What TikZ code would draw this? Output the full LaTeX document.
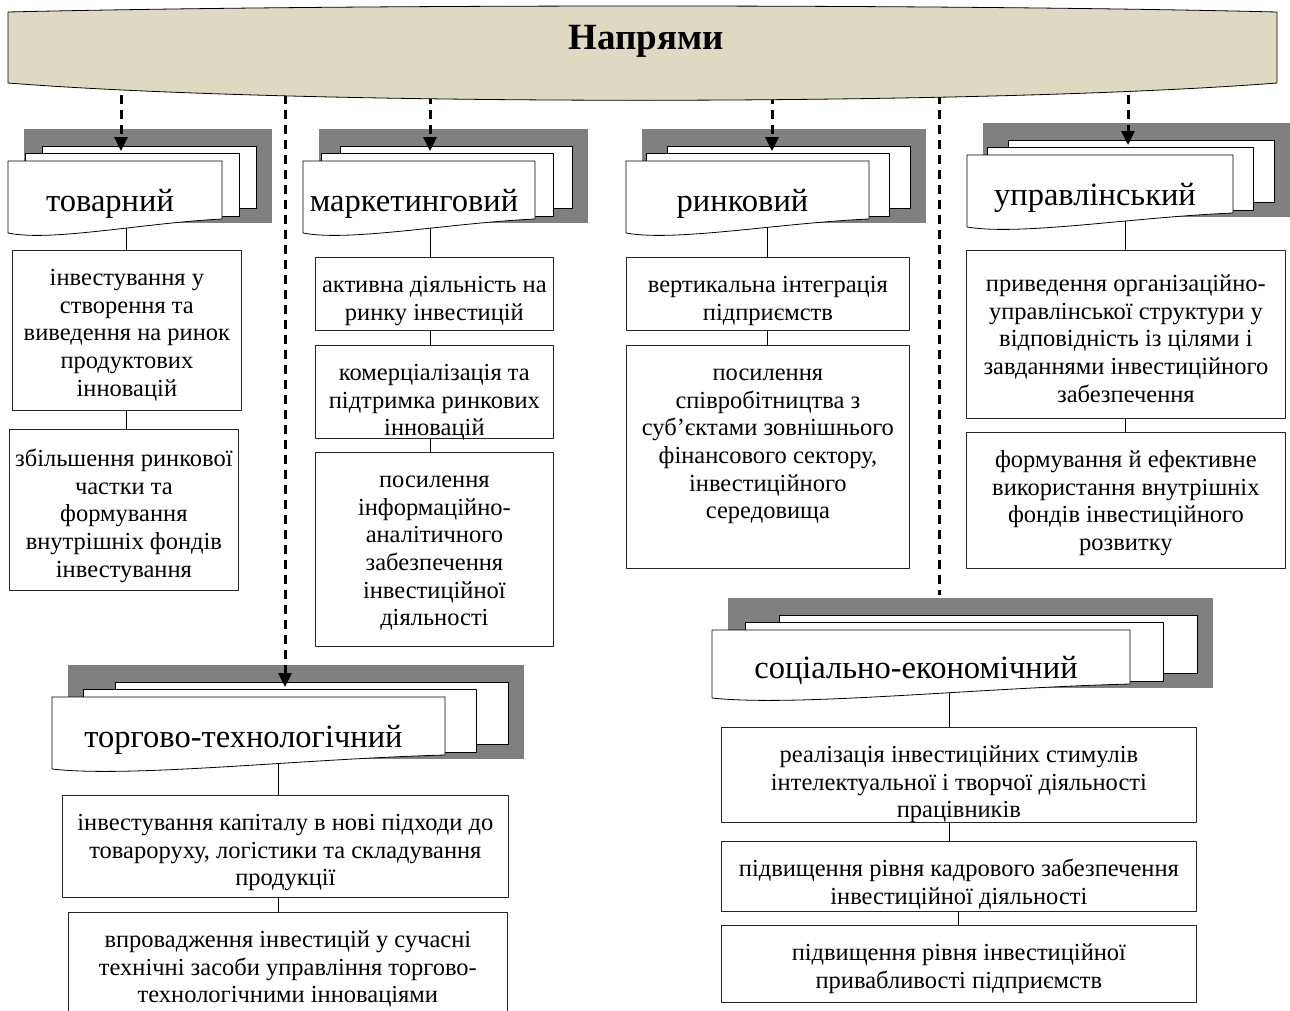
\documentclass[tikz,border=0pt]{standalone}
\usepackage{fontspec}
\setmainfont{Liberation Serif}
\usetikzlibrary{arrows.meta}
\pgfdeclarelayer{links}
\pgfsetlayers{links,main}

\definecolor{bannerfill}{RGB}{221,217,195}
\definecolor{shadowgray}{RGB}{128,128,128}

% stack of pages: name, grey shadow (x1,y1,x2,y2), right edge of front sheet, label
\newcommand{\pagestack}[7]{%
  \pgfmathsetmacro{\pgshift}{(#4-16-#6)/2}
  \fill[shadowgray] (#2,#3) rectangle (#4,#5);
  \filldraw[sheet] (#2-16+2*\pgshift,#3+17) rectangle (#4-16,#5-15);
  \filldraw[sheet] (#2-16+\pgshift,#3+24) rectangle (#6+\pgshift,#5-7);
  \filldraw[sheet] (#2-16,#3+32)--(#6,#3+32)--(#6,#5-4)
    .. controls ({#2-16+0.63*(#6-#2+16)},#5) and ({#2-16+0.2*(#6-#2+16)},#5+19) .. (#2-16,#5+10)--cycle;
  \node[headlabel] (#1) at ({(#2-16+#6)/2-5},{(#3+32+#5)/2+12}) {#7};
  \coordinate (#1top) at (#2,#3+22);
}
% text of a box: [top pad]{width}{height}{lines}
\newcommand{\cellbox}[4][16]{\parbox[c][#3pt][t]{#2pt}{\centering\vspace*{#1pt}\strut#4}}

\begin{document}
\begin{tikzpicture}[x=1pt,y=-1pt,line join=round,
  sheet/.style={fill=white,draw=black,line width=0.8pt},
  headlabel/.style={font=\fontsize{32.5}{36}\selectfont,inner sep=0pt},
  infobox/.style={draw=black!85,line width=0.8pt,inner sep=0pt,anchor=north west,
    font=\fontsize{24.5}{27.6}\selectfont},
  link/.style={line width=1pt},
  dashlink/.style={line width=3pt,dash pattern=on 9pt off 6pt},
  flow/.style={dashlink,-{Triangle[length=14pt,width=13pt]}},
  banner/.style={fill=bannerfill,draw=black,line width=0.8pt}]
\useasboundingbox (0,0) rectangle (1290,1010);

\pagestack{tov}{24}{129}{272}{223}{222}{товарний}
\pagestack{mar}{319}{129}{588}{223}{535}{маркетинговий}
\pagestack{rin}{642}{129}{926}{223}{869}{ринковий}
\pagestack{upr}{983}{123}{1290}{217}{1233}{управлінський}
\pagestack{tor}{68}{665}{524}{759}{445}{торгово-технологічний}
\pagestack{soc}{728}{598}{1213}{688}{1130}{соціально-економічний}

\node[infobox] (tov1) at (12,250) {\cellbox{229}{160}{інвестування у\\створення та\\виведення на ринок\\продуктових\\інновацій}};
\node[infobox] (tov2) at (9,429) {\cellbox[18]{229}{161}{збільшення ринкової\\частки та\\формування\\внутрішніх фондів\\інвестування}};

\node[infobox] (mar1) at (315,257) {\cellbox{238}{73}{активна діяльність на\\ринку інвестицій}};
\node[infobox] (mar2) at (315,345) {\cellbox{238}{93}{комерціалізація та\\підтримка ринкових\\інновацій}};
\node[infobox] (mar3) at (315,452) {\cellbox{238}{194}{посилення\\інформаційно-\\аналітичного\\забезпечення\\інвестиційної\\діяльності}};

\node[infobox] (rin1) at (626,257) {\cellbox{283}{73}{вертикальна інтеграція\\підприємств}};
\node[infobox] (rin2) at (626,345) {\cellbox{283}{223}{посилення\\співробітництва з\\суб’єктами зовнішнього\\фінансового сектору,\\інвестиційного\\середовища}};

\node[infobox] (upr1) at (966,250) {\cellbox[22]{319}{168}{приведення організаційно-\\управлінської структури у\\відповідність із цілями і\\завданнями інвестиційного\\забезпечення}};
\node[infobox] (upr2) at (966,432) {\cellbox{319}{136}{формування й ефективне\\використання внутрішніх\\фондів інвестиційного\\розвитку}};

\node[infobox] (tor1) at (62,795) {\cellbox{446}{102}{інвестування капіталу в нові підходи до\\товароруху, логістики та складування\\продукції}};
\node[infobox] (tor2) at (68,912) {\cellbox{439}{110}{впровадження інвестицій у сучасні\\технічні засоби управління торгово-\\технологічними інноваціями}};

\node[infobox] (soc1) at (721,727) {\cellbox{475}{95}{реалізація інвестиційних стимулів\\інтелектуальної і творчої діяльності\\працівників}};
\node[infobox] (soc2) at (721,841) {\cellbox{475}{70}{підвищення рівня кадрового забезпечення\\інвестиційної діяльності}};
\node[infobox] (soc3) at (721,925) {\cellbox{475}{77}{підвищення рівня інвестиційної\\привабливості підприємств}};

\begin{pgfonlayer}{links}
\draw[link] (tov1.north) -- (tov1.north |- tov);
\draw[link] (tov1.south) -- (tov1.south |- tov2.north);
\draw[link] ([xshift=-4pt]mar1.north) -- ([xshift=-4pt]mar1.north |- mar);
\draw[link] ([xshift=-4pt]mar1.south) -- ([xshift=-4pt]mar1.south |- mar2.north);
\draw[link] ([xshift=-4pt]mar2.south) -- ([xshift=-4pt]mar2.south |- mar3.north);
\draw[link] (rin1.north) -- (rin1.north |- rin);
\draw[link] (rin1.south) -- (rin1.south |- rin2.north);
\draw[link] (upr1.north) -- (upr1.north |- upr);
\draw[link] (upr1.south) -- (upr1.south |- upr2.north);
\draw[link] ([xshift=-7pt]tor1.north) -- ([xshift=-7pt]tor1.north |- tor);
\draw[link] ([xshift=-7pt]tor1.south) -- ([xshift=-7pt]tor1.south |- tor2.north);
\draw[link] ([xshift=-9pt]soc1.north) -- ([xshift=-9pt]soc1.north |- soc);
\draw[link] ([xshift=-9pt]soc1.south) -- ([xshift=-9pt]soc1.south |- soc2.north);
\draw[link] (soc2.south) -- (soc2.south |- soc3.north);
\end{pgfonlayer}

    \coordinate (s1) at (121,80);
    \coordinate (s2) at (285,80);
    \coordinate (s3) at (430,80);
    \coordinate (s4) at (772,80);
    \coordinate (s5) at (939,80);
    \coordinate (s6) at (1128,80);
    \coordinate (socend) at (939,595);

\draw[flow] (s1) -- (s1 |- tovtop);
\draw[flow] (s2) -- (s2 |- tortop);
\draw[flow] (s3) -- (s3 |- martop);
\draw[flow] (s4) -- (s4 |- rintop);
\draw[dashlink] (s5) -- (socend);
\draw[flow] (s6) -- (s6 |- uprtop);

\filldraw[banner] (8,12) .. controls (350,4) and (950,4) .. (1277,12)--(1277,83)
  .. controls (980,106) and (300,106) .. (8,83)--cycle;
\node[font=\fontsize{37}{42}\selectfont\bfseries] (napr) at (646,41) {Напрями};
\end{tikzpicture}
\end{document}
